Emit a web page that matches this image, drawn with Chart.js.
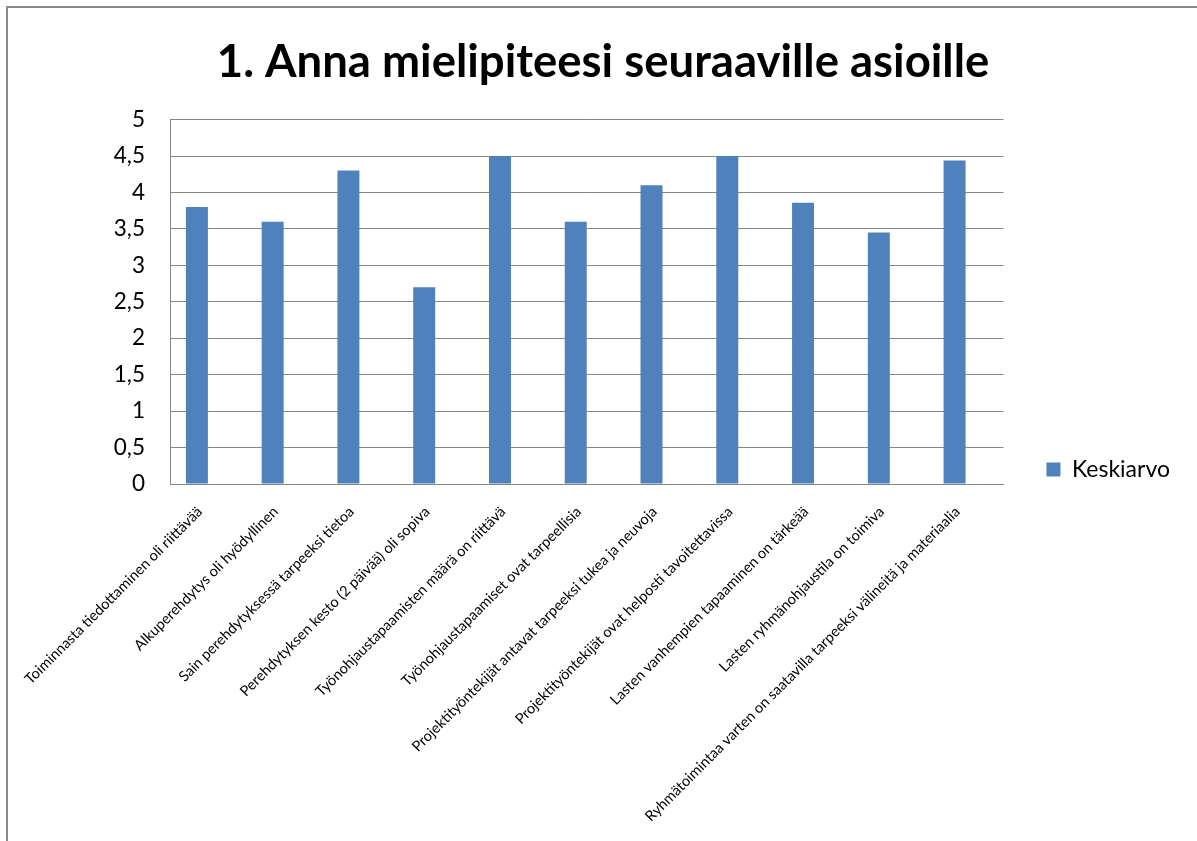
<!DOCTYPE html>
<html>
<head>
<meta charset="utf-8">
<script src="https://cdn.jsdelivr.net/npm/chart.js@4"></script>
<style>
  html, body { margin: 0; padding: 0; background: #fff; }
  #wrap { position: absolute; left: 0; top: 0; width: 1197px; height: 841px; }
  #frame { position: absolute; left: 6px; top: 6px; width: 1200px; height: 850px; border: 2px solid #8c8c8c; box-sizing: border-box; pointer-events: none; }
</style>
</head>
<body>
<div id="wrap"><canvas id="c" width="1197" height="841"></canvas></div>
<div id="frame"></div>
<script>
const titleText = "1. Anna mielipiteesi seuraaville asioille";
const seriesName = "Keskiarvo";
const categories = [
  "Toiminnasta tiedottaminen oli riittävää",
  "Alkuperehdytys oli hyödyllinen",
  "Sain perehdytyksessä tarpeeksi tietoa",
  "Perehdytyksen kesto (2 päivää) oli sopiva",
  "Työnohjaustapaamisten määrä on riittävä",
  "Työnohjaustapaamiset ovat tarpeellisia",
  "Projektityöntekijät antavat tarpeeksi tukea ja neuvoja",
  "Projektityöntekijät ovat helposti tavoitettavissa",
  "Lasten vanhempien tapaaminen on tärkeää",
  "Lasten ryhmänohjaustila on toimiva",
  "Ryhmätoimintaa varten on saatavilla tarpeeksi välineitä ja materiaalia"
];
const values = [3.8, 3.6, 4.3, 2.7, 4.5, 3.6, 4.1, 4.5, 3.86, 3.45, 4.44];
// the source chart reserves an empty second series slot beside each bar
const emptyValues = [null, null, null, null, null, null, null, null, null, null, null];
const yMin = 0, yMax = 5, yStep = 0.5;

new Chart(document.getElementById('c'), {
  type: 'bar',
  data: {
    labels: categories,
    datasets: [{
      label: seriesName,
      data: values,
      backgroundColor: '#4f81bd',
      borderWidth: 0,
      barPercentage: 1.0,
      categoryPercentage: 0.58
    }, {
      label: '',
      data: emptyValues,
      backgroundColor: 'rgba(0,0,0,0)',
      borderWidth: 0,
      barPercentage: 1.0,
      categoryPercentage: 0.58
    }]
  },
  options: {
    responsive: false,
    animation: false,
    layout: { padding: { left: 26, right: 17, top: 0, bottom: 0 } },
    plugins: {
      title: {
        display: true,
        text: titleText,
        color: '#000',
        font: { family: 'Lato', size: 45.5, weight: 'bold' },
        padding: { top: 35, bottom: 30 }
      },
      legend: {
        position: 'right',
        align: 'end',
        fullSize: false,
        labels: {
          color: '#000',
          font: { family: 'Lato', size: 23 },
          boxWidth: 14, boxHeight: 14,
          padding: 3,
          filter: item => item.text !== ''
        }
      },
      tooltip: { enabled: false }
    },
    scales: {
      x: {
        grid: { display: false, drawTicks: false },
        border: { color: '#868686', width: 1 },
        ticks: {
          color: '#000',
          font: { family: 'Lato', size: 14.6 },
          minRotation: 45, maxRotation: 45,
          autoSkip: false,
          padding: 19,
          labelOffset: -8
        },
        afterFit: s => { s.height = 357; }
      },
      y: {
        min: yMin, max: yMax,
        grid: { color: '#868686', drawTicks: false },
        border: { color: '#868686', width: 1 },
        ticks: {
          stepSize: yStep,
          color: '#000',
          font: { family: 'Lato', size: 22.5 },
          padding: 25,
          callback: v => String(v).replace('.', ',')
        },
        afterFit: s => { s.width = 144; }
      },
      gap: {
        type: 'linear',
        position: 'right',
        display: true,
        grid: { display: false, drawTicks: false },
        border: { display: false },
        ticks: { display: false },
        afterFit: s => { s.width = 40; }
      }
    }
  }
});
</script>
</body>
</html>
